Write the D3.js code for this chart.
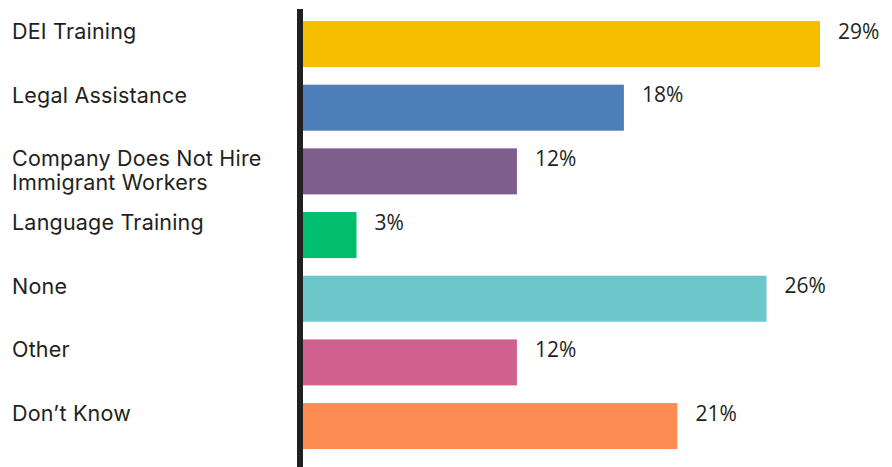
<!DOCTYPE html>
<html>
<head>
<meta charset="utf-8">
<script src="https://cdn.jsdelivr.net/npm/d3@7"></script>
<style>
  html, body { margin: 0; padding: 0; background: #fff; }
  svg { display: block; }
</style>
</head>
<body>
<svg id="chart" width="892" height="467"></svg>
<script>
// Survey responses: support offered to immigrant workers
const categories = [
  "DEI Training",
  "Legal Assistance",
  "Company Does Not Hire Immigrant Workers",
  "Language Training",
  "None",
  "Other",
  "Don't Know"
];
const labelLines = [
  ["DEI Training"],
  ["Legal Assistance"],
  ["Company Does Not Hire", "Immigrant Workers"],
  ["Language Training"],
  ["None"],
  ["Other"],
  ["Don\u2019t Know"]
];
const values = [29, 18, 12, 3, 26, 12, 21];
const colors = ["#F6BE00", "#4E7EB7", "#7E5E8D", "#00BE6E", "#6CC7CB", "#D0618F", "#FE8C52"];

const svg = d3.select("#chart");

const x = d3.scaleLinear().domain([0, 29]).range([303, 820]);
const y = d3.scaleBand()
  .domain(categories)
  .range([8.3, 461.8])
  .paddingInner(0.2775)
  .paddingOuter(0.2);

// bars
svg.append("g")
  .selectAll("rect")
  .data(categories)
  .join("rect")
  .attr("x", x(0))
  .attr("y", d => y(d))
  .attr("width", (d, i) => x(values[i]) - x(0))
  .attr("height", y.bandwidth())
  .attr("fill", (d, i) => colors[i]);

// value labels
svg.append("g")
  .selectAll("text")
  .data(categories)
  .join("text")
  .attr("x", (d, i) => x(values[i]) + 18)
  .attr("y", d => y(d) + 17.5)
  .attr("font-family", "'Open Sans', sans-serif")
  .attr("font-size", 21)
  .attr("fill", "#231F20")
  .text((d, i) => values[i] + "%");

// category labels
const lab = svg.append("g")
  .selectAll("text")
  .data(categories)
  .join("text")
  .attr("x", 12)
  .attr("y", d => y(d) + 18)
  .attr("font-family", "Inter, sans-serif")
  .attr("font-size", 21.5)
  .attr("letter-spacing", 0.2)
  .attr("fill", "#231F20");
lab.selectAll("tspan")
  .data((d, i) => labelLines[i])
  .join("tspan")
  .attr("x", 12)
  .attr("dy", (d, j) => j === 0 ? 0 : 23.6)
  .text(d => d);

// vertical baseline axis
svg.append("line")
  .attr("x1", 300)
  .attr("x2", 300)
  .attr("y1", 9)
  .attr("y2", 467)
  .attr("stroke", "#231F20")
  .attr("stroke-width", 6);
</script>
</body>
</html>
